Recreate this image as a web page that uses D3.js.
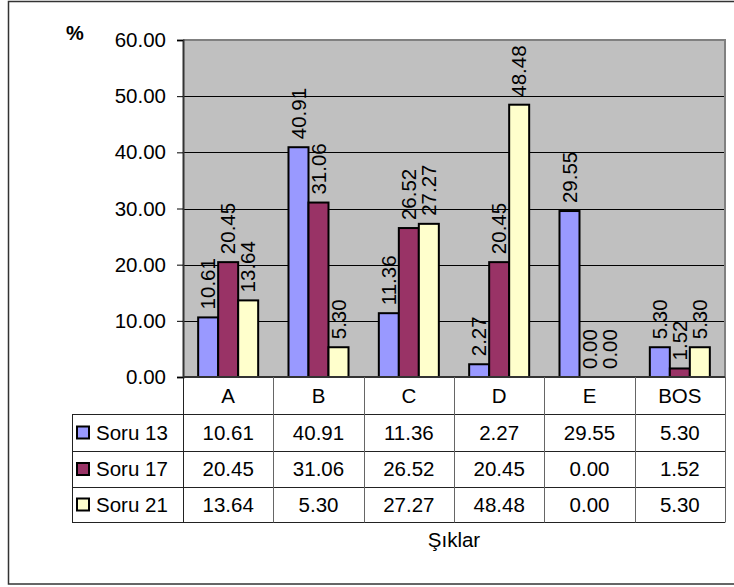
<!DOCTYPE html>
<html>
<head>
<meta charset="utf-8">
<script src="https://cdn.jsdelivr.net/npm/d3@7"></script>
<style>
  html, body { margin: 0; padding: 0; background: #fff; }
  svg { display: block; font-family: "Liberation Sans", Arial, sans-serif; }
</style>
</head>
<body>
<svg id="chart" width="734" height="587"></svg>
<script>
// Answer options (x axis) and the three questions compared
const categories = ["A", "B", "C", "D", "E", "BOS"];
const seriesNames = ["Soru 13", "Soru 17", "Soru 21"];
const soru13 = [10.61, 40.91, 11.36, 2.27, 29.55, 5.30];
const soru17 = [20.45, 31.06, 26.52, 20.45, 0.00, 1.52];
const soru21 = [13.64, 5.30, 27.27, 48.48, 0.00, 5.30];
const yTicks = [0, 10, 20, 30, 40, 50, 60];
const yLabel = "%";
const xLabel = "Şıklar";

const seriesValues = [soru13, soru17, soru21];
const colors = ["#9999FF", "#993366", "#FFFFCC"];

const svg = d3.select("#chart");
const fmt = d3.format(".2f");
const FONT = 20.5;

// Plot area geometry
const plotLeft = 183, plotRight = 725, plotTop = 40, plotBottom = 377;
const tableLeft = 72;
const rowH = [37, 37, 36, 35]; // header row + 3 data rows

// Outer frame
svg.append("rect")
  .attr("x", 8.5).attr("y", 1.5)
  .attr("width", 740).attr("height", 582.5)
  .attr("fill", "#fff").attr("stroke", "#333").attr("stroke-width", 1.5);

const x0 = d3.scaleBand().domain(categories).range([plotLeft, plotRight]).paddingInner(0).paddingOuter(0);
const x1 = d3.scaleBand().domain(seriesNames).range([0, x0.bandwidth()]).paddingInner(0).paddingOuter(0.758);
const y = d3.scaleLinear().domain([0, 60]).range([plotBottom, plotTop]);

// Plot background
svg.append("rect")
  .attr("x", plotLeft).attr("y", plotTop)
  .attr("width", plotRight - plotLeft).attr("height", plotBottom - plotTop)
  .attr("fill", "#C0C0C0");

// Gridlines
svg.append("g").selectAll("line")
  .data(yTicks.filter(t => t > 0 && t < 60))
  .join("line")
  .attr("x1", plotLeft).attr("x2", plotRight)
  .attr("y1", d => Math.round(y(d)) + 0.5).attr("y2", d => Math.round(y(d)) + 0.5)
  .attr("stroke", "#000").attr("stroke-width", 1);

// Plot border (top and right)
svg.append("path")
  .attr("d", `M${plotLeft},${plotTop} H${plotRight} V${plotBottom}`)
  .attr("fill", "none").attr("stroke", "#808080").attr("stroke-width", 2);

// Bars
const groups = svg.append("g").selectAll("g")
  .data(categories)
  .join("g")
  .attr("transform", d => `translate(${x0(d)},0)`);

const cells = (c, i) => seriesNames.map((s, k) => ({ s, k, v: seriesValues[k][i] }));

groups.selectAll("rect")
  .data(cells)
  .join("rect")
  .attr("x", d => x1(d.s))
  .attr("y", d => y(d.v))
  .attr("width", x1.bandwidth())
  .attr("height", d => y(0) - y(d.v))
  .attr("fill", d => colors[d.k])
  .attr("stroke", "#000").attr("stroke-width", 2);

// Value labels, rotated
groups.selectAll("text")
  .data(cells)
  .join("text")
  .attr("transform", d => `translate(${x1(d.s) + x1.bandwidth() / 2},${y(d.v) - 8}) rotate(-90)`)
  .attr("dy", "0.35em")
  .attr("text-anchor", "start")
  .attr("font-size", FONT)
  .attr("fill", "#000")
  .text(d => fmt(d.v));

// Y axis
const yAxis = svg.append("g")
  .attr("transform", `translate(${plotLeft},0)`)
  .call(d3.axisLeft(y).tickValues(yTicks).tickFormat(fmt).tickSize(6).tickPadding(11));
yAxis.select(".domain").attr("stroke", "#333").attr("stroke-width", 2);
yAxis.selectAll(".tick line").attr("stroke", "#000");
yAxis.selectAll(".tick text").attr("font-size", FONT).attr("fill", "#000")
  .attr("font-family", "Liberation Sans, Arial, sans-serif");

// X axis baseline
svg.append("line")
  .attr("x1", plotLeft).attr("x2", plotRight).attr("y1", plotBottom).attr("y2", plotBottom)
  .attr("stroke", "#333").attr("stroke-width", 2);

// Y axis title
svg.append("text")
  .attr("x", 75).attr("y", 40)
  .attr("text-anchor", "middle")
  .attr("font-size", 20).attr("font-weight", "bold")
  .text(yLabel);

// Data table
const rowTops = [plotBottom];
rowH.forEach((h, i) => rowTops.push(rowTops[i] + h));
const tableBottom = rowTops[rowTops.length - 1];

const table = svg.append("g");
// horizontal rules
table.selectAll("line.h")
  .data(rowTops.slice(1))
  .join("line")
  .attr("class", "h")
  .attr("x1", tableLeft).attr("x2", plotRight)
  .attr("y1", d => d + 0.5).attr("y2", d => d + 0.5)
  .attr("stroke", "#222").attr("stroke-width", 1);
// left border of legend column
table.append("line")
  .attr("x1", tableLeft + 0.5).attr("x2", tableLeft + 0.5)
  .attr("y1", rowTops[1]).attr("y2", tableBottom + 0.5)
  .attr("stroke", "#222");
// column separators
const colEdges = categories.map(c => x0(c)).concat([plotRight]);
table.selectAll("line.v")
  .data(colEdges)
  .join("line")
  .attr("class", "v")
  .attr("x1", d => Math.round(d) + 0.5).attr("x2", d => Math.round(d) + 0.5)
  .attr("y1", plotBottom).attr("y2", tableBottom + 0.5)
  .attr("stroke", (d, i) => i === 0 ? "#222" : "#666").attr("stroke-width", 1);

// header row: category names
table.selectAll("text.cat")
  .data(categories)
  .join("text")
  .attr("class", "cat")
  .attr("x", d => x0(d) + x0.bandwidth() / 2)
  .attr("y", (rowTops[0] + rowTops[1]) / 2)
  .attr("dy", "0.36em")
  .attr("text-anchor", "middle")
  .attr("font-size", FONT)
  .text(d => d);

// data rows
seriesNames.forEach((name, k) => {
  const cy = (rowTops[k + 1] + rowTops[k + 2]) / 2;
  table.append("rect")
    .attr("x", 77).attr("y", cy - 6)
    .attr("width", 12).attr("height", 12)
    .attr("fill", colors[k]).attr("stroke", "#000").attr("stroke-width", 2);
  table.append("text")
    .attr("x", 96).attr("y", cy).attr("dy", "0.36em")
    .attr("font-size", FONT)
    .text(name);
  table.append("g").selectAll("text")
    .data(categories)
    .join("text")
    .attr("x", d => x0(d) + x0.bandwidth() / 2)
    .attr("y", cy).attr("dy", "0.36em")
    .attr("text-anchor", "middle")
    .attr("font-size", FONT)
    .text((d, i) => fmt(seriesValues[k][i]));
});

// X axis title
svg.append("text")
  .attr("x", (plotLeft + plotRight) / 2).attr("y", 547)
  .attr("text-anchor", "middle")
  .attr("font-size", FONT)
  .text(xLabel);
</script>
</body>
</html>
